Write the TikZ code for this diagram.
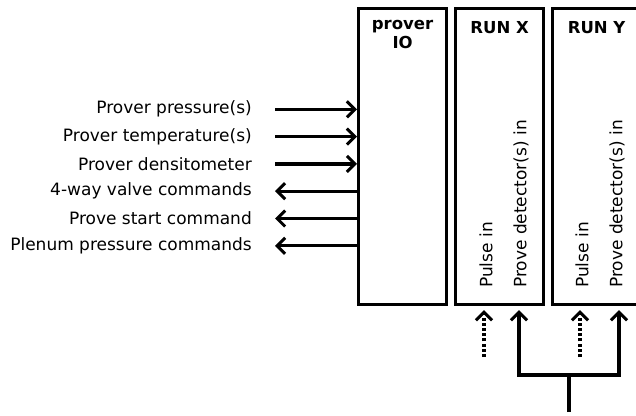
\documentclass[tikz,border=0pt]{standalone}
\usepackage{fontspec}
\setmainfont{DejaVu Sans}
\usetikzlibrary{arrows.meta,positioning}
\tikzset{
  >={Straight Barb[length=8pt,width=16pt,line width=3pt]},
  blockbox/.style={draw,line width=3.2pt,minimum width=88pt,minimum height=296pt,
                   anchor=north west,inner sep=0pt},
  titletext/.style={font=\fontsize{16.5}{19}\selectfont\bfseries,align=center,inner sep=0pt},
  sigtext/.style={font=\fontsize{17}{19}\selectfont,anchor=east,inner sep=0pt},
  porttext/.style={font=\fontsize{17}{19}\selectfont,rotate=90,anchor=west,inner sep=0pt},
  sigarrow/.style={->,line width=3.2pt},
  sigline/.style={line width=3.2pt},
  pulsearrow/.style={->,line width=3.2pt,dash pattern=on 3pt off 2.2pt},
}
\begin{document}
\begin{tikzpicture}[x=1pt,y=-1pt]
  \useasboundingbox (0,0) rectangle (636,415);
  % blocks
  \node[blockbox] (io) at (357,7) {};
  \node[blockbox] (runx) at (454,7) {};
  \node[blockbox] (runy) at (551,7) {};
  \node[titletext,below=13pt of io.north] {prover\\IO};
  \node[titletext,below=14pt of runx.north] {RUN X};
  \node[titletext,below=14pt of runy.north] {RUN Y};
  % signals to and from the prover IO
  \foreach \txt [count=\i] in {Prover pressure(s),Prover temperature(s),Prover densitometer,
      4-way valve commands,Prove start command,Plenum pressure commands}{
    \node[sigtext] (s\i) at (252,{82+27.3*\i}) {\txt};
  }
  \foreach \i in {1,2,3}{
    \draw[sigarrow] ([xshift=23pt]s\i.east) -- (s\i -| io.west);
  }
  \foreach \i in {4,5,6}{
    \draw[sigarrow] (s\i -| io.west) -- ([xshift=23pt]s\i.east);
  }
  % run inputs
  \node[porttext] (xpulse) at (486,288) {Pulse in};
  \node[porttext] (xdet) at (521,288) {Prove detector(s) in};
  \node[porttext] (ypulse) at (582,288) {Pulse in};
  \node[porttext] (ydet) at (617,288) {Prove detector(s) in};
  \coordinate (xpin) at (484,357);
  \coordinate (ypin) at (580,357);
  \coordinate (xdin) at (519,375);
  \coordinate (ydin) at (619,375);
  \coordinate (split) at (569,375);
  \coordinate (feed) at (569,412);
  \draw[pulsearrow] (xpin) -- ([yshift=-4pt]xpin |- runx.south);
  \draw[pulsearrow] (ypin) -- ([yshift=-4pt]ypin |- runy.south);
  \draw[sigline] (feed) -- (split);
  \draw[sigarrow] (split) -- (xdin) -- ([yshift=-4pt]xdin |- runx.south);
  \draw[sigarrow] (split) -- (ydin) -- ([yshift=-4pt]ydin |- runy.south);
\end{tikzpicture}
\end{document}
